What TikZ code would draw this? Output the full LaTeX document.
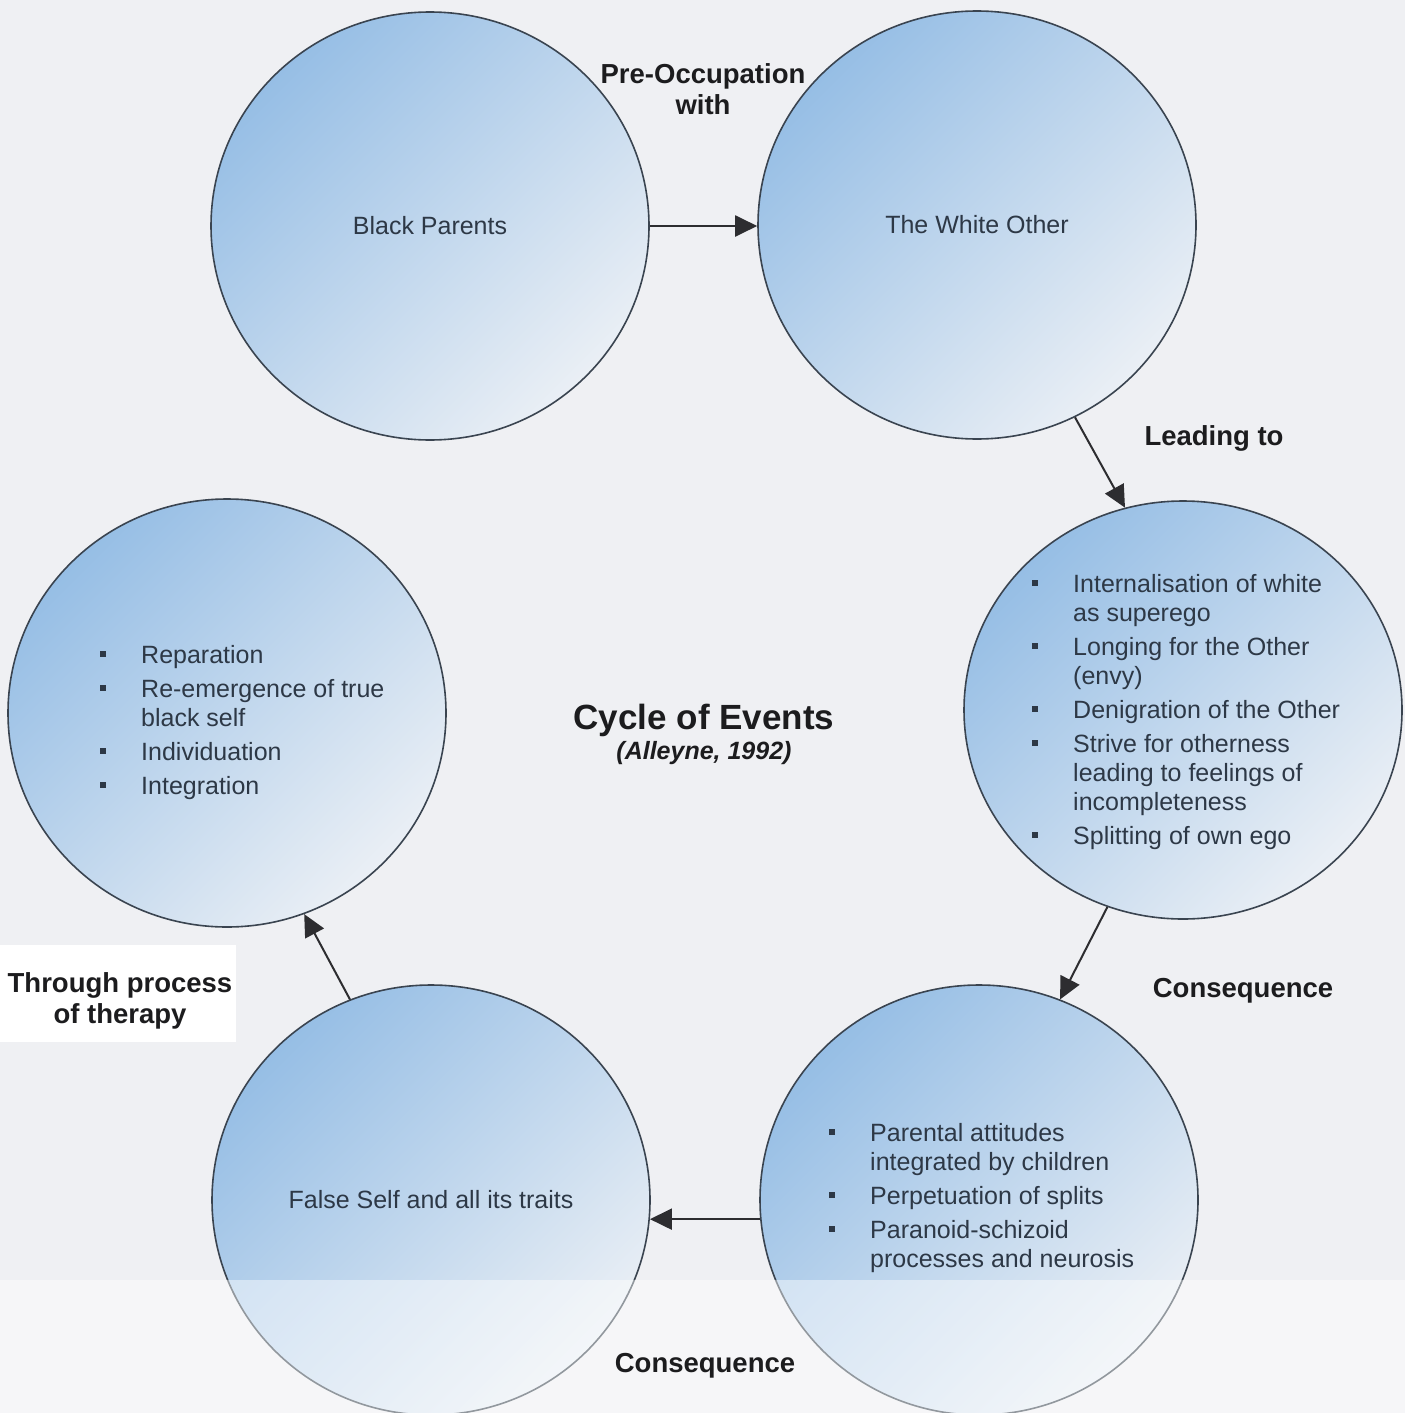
\documentclass[tikz,border=0pt]{standalone}
\usepackage{fontspec}
\setmainfont{Liberation Sans}
\usetikzlibrary{shapes.geometric,arrows.meta}
\definecolor{bg}{RGB}{239,240,243}
\definecolor{cdark}{RGB}{150,190,229}
\definecolor{clight}{RGB}{234,239,245}
\definecolor{edge}{RGB}{58,68,80}
\definecolor{ctext}{RGB}{45,56,70}
\definecolor{ltext}{RGB}{28,28,30}
\definecolor{arrcol}{RGB}{45,45,48}
\newcommand\bul{\makebox[41pt][l]{\raisebox{6pt}{\rule{6pt}{6pt}}}}
\newcommand\itm[1]{\hangindent=41pt\hangafter=1\noindent\bul #1\par}
\newcommand\isep{\vskip5pt\relax}
\begin{document}
\begin{tikzpicture}[x=1pt,y=-1pt,
  bubble/.style={ellipse, draw=edge, line width=1.6pt, minimum width=438pt,
    minimum height=428pt, inner sep=0pt, top color=cdark, bottom color=clight,
    shading angle=45, text=ctext, font=\fontsize{25}{29}\selectfont},
  listtxt/.style={inner sep=0pt, text=ctext, font=\fontsize{25}{29}\selectfont},
  lbl/.style={inner sep=0pt, text=ltext, align=center,
    font=\bfseries\fontsize{27.5}{31}\selectfont},
  arrow/.style={draw=arrcol, line width=2pt, -{Triangle[length=22pt,width=21pt]}}]
\useasboundingbox (0,0) rectangle (1405,1413);
\fill[bg] (0,0) rectangle (1405,1413);
\fill[white] (0,945) rectangle (236,1042);

% circles
\node[bubble] (A) at (430,226) {Black Parents};
\node[bubble] (B) at (977,225) {The White Other};
\node[bubble, minimum height=418pt] (C) at (1183,710) {};
\node[bubble] (D) at (227,713) {};
\node[bubble, minimum height=430pt] (E) at (431,1200) {False Self and all its traits};
\node[bubble, minimum height=430pt] (F) at (979,1200) {};

% lighter lower band of the scan
\fill[white, opacity=0.45] (0,1280) rectangle (1405,1413);

% lists
\node[listtxt, anchor=base west] (Ctxt) at (1032,592) {\parbox[t]{360pt}{%
  \itm{Internalisation of white\\as superego}\isep
  \itm{Longing for the Other\\(envy)}\isep
  \itm{Denigration of the Other}\isep
  \itm{Strive for otherness\\leading to feelings of\\incompleteness}\isep
  \itm{Splitting of own ego}}};
\node[listtxt, anchor=base west] (Dtxt) at (100,663) {\parbox[t]{340pt}{%
  \itm{Reparation}\isep
  \itm{Re-emergence of true\\black self}\isep
  \itm{Individuation}\isep
  \itm{Integration}}};
\node[listtxt, anchor=base west] (Ftxt) at (829,1141) {\parbox[t]{360pt}{%
  \itm{Parental attitudes\\integrated by children}\isep
  \itm{Perpetuation of splits}\isep
  \itm{Paranoid-schizoid\\processes and neurosis}}};

% connectors
\draw[arrow] (A.east) -- (A.east -| B.west);
\draw[arrow] (B.-63) -- (C.106);
\draw[arrow] (C.-111) -- (F.68);
\draw[arrow] (F.185) -- (E.-5);
\draw[arrow] (E.112) -- (D.-69);

% labels
\node[lbl] (l1) at (703,89) {Pre-Occupation\\with};
\node[lbl] (l2) at (1214,438) {Leading to};
\node[lbl] (l3) at (1243,991) {Consequence};
\node[lbl] (l4) at (705,1366) {Consequence};
\node[lbl] (l5) at (120,1001) {Through process\\of therapy};
\node[inner sep=0pt, text=ltext, font=\bfseries\fontsize{35}{40}\selectfont] (title) at (704,720) {Cycle of Events};
\node[inner sep=0pt, text=ltext, font=\bfseries\itshape\fontsize{25}{30}\selectfont] (sub) at (704,753) {(Alleyne, 1992)};
\end{tikzpicture}
\end{document}
